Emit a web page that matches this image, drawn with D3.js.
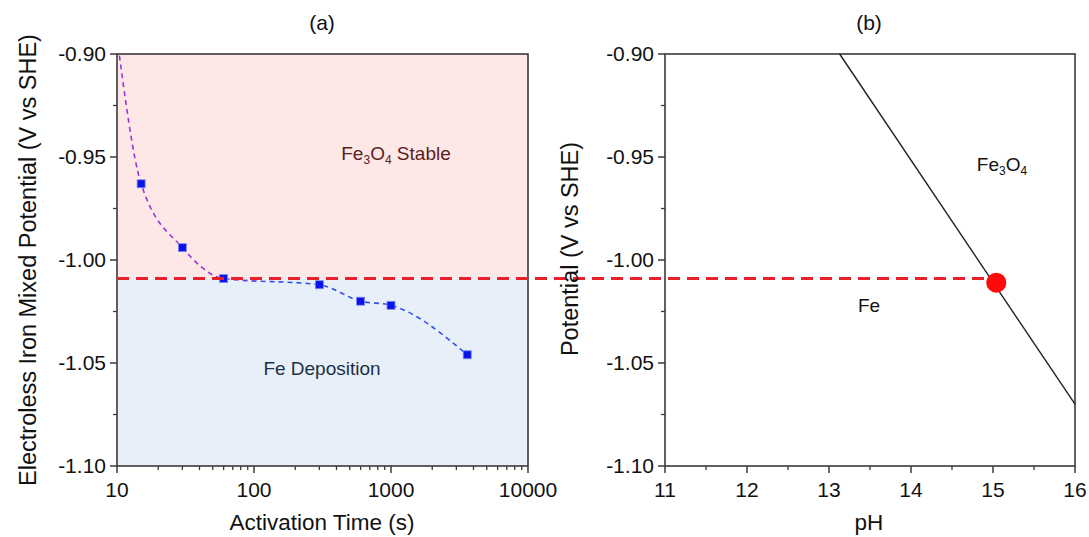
<!DOCTYPE html>
<html>
<head>
<meta charset="utf-8">
<script src="https://cdn.jsdelivr.net/npm/d3@7"></script>
<style>
  body { margin: 0; background: #fff; }
  svg { font-family: "Liberation Sans", Arial, sans-serif; }
</style>
</head>
<body>
<script>
// panel (a) data: activation time vs mixed potential
const times = [10, 15, 30, 60, 300, 600, 1000, 3600];
const potentials = [-0.892, -0.963, -0.994, -1.009, -1.012, -1.020, -1.022, -1.046];
const boundary = -1.009;          // red dashed level
// panel (b) data: Fe / Fe3O4 equilibrium line
const pHLine = [13.13, 16];
const eLine = [-0.90, -1.07];
const opPoint = { pH: 15.04, e: -1.011 };
const yTicks = [-1.10, -1.05, -1.00, -0.95, -0.90];
const xTicksA = [10, 100, 1000, 10000];
const xTicksB = [11, 12, 13, 14, 15, 16];

const width = 1089, height = 537;
const svg = d3.select("body").append("svg").attr("width", width).attr("height", height);
const defs = svg.append("defs");

const xA = d3.scaleLog().domain([10, 10000]).range([117, 528]);
const xB = d3.scaleLinear().domain([11, 16]).range([665, 1075]);
const y = d3.scaleLinear().domain([-1.10, -0.90]).range([466, 54]);

const frameColor = "#3a3a3a";

// backgrounds panel a
svg.append("rect").attr("x", xA(10)).attr("y", y(-0.90))
    .attr("width", xA(10000) - xA(10)).attr("height", y(boundary) - y(-0.90))
    .attr("fill", "#fde7e7");
svg.append("rect").attr("x", xA(10)).attr("y", y(boundary))
    .attr("width", xA(10000) - xA(10)).attr("height", y(-1.10) - y(boundary))
    .attr("fill", "#e7eff8");

function drawAxes(x, minorX, ticksX, fmtX) {
    const [x0, x1] = x.range();
    const [y0, y1] = y.range();
    const g = svg.append("g");
    // minor ticks
    g.selectAll(".mx").data(minorX).enter().append("line")
        .attr("x1", d => x(d)).attr("x2", d => x(d))
        .attr("y1", y0).attr("y2", y0 + 4)
        .attr("stroke", frameColor).attr("stroke-width", 1.3);
    g.selectAll(".my").data([-1.075, -1.025, -0.975, -0.925]).enter().append("line")
        .attr("x1", x0 - 4).attr("x2", x0)
        .attr("y1", d => y(d)).attr("y2", d => y(d))
        .attr("stroke", frameColor).attr("stroke-width", 1.3);
    // major ticks
    g.selectAll(".Mx").data(ticksX).enter().append("line")
        .attr("x1", d => x(d)).attr("x2", d => x(d))
        .attr("y1", y0).attr("y2", y0 + 7)
        .attr("stroke", frameColor).attr("stroke-width", 1.5);
    g.selectAll(".My").data(yTicks).enter().append("line")
        .attr("x1", x0 - 7).attr("x2", x0)
        .attr("y1", d => y(d)).attr("y2", d => y(d))
        .attr("stroke", frameColor).attr("stroke-width", 1.5);
    g.selectAll(".tx").data(ticksX).enter().append("text")
        .attr("x", d => x(d)).attr("y", y0 + 31)
        .attr("text-anchor", "middle").attr("font-size", 21).attr("fill", "#111")
        .text(fmtX);
    g.selectAll(".ty").data(yTicks).enter().append("text")
        .attr("x", x0 - 11).attr("y", d => y(d) + 7)
        .attr("text-anchor", "end").attr("font-size", 21).attr("fill", "#111")
        .text(d => d3.format(".2f")(d).replace("−", "-"));
    // frame
    g.append("rect").attr("x", x0).attr("y", y1).attr("width", x1 - x0).attr("height", y0 - y1)
        .attr("fill", "none").attr("stroke", frameColor).attr("stroke-width", 1.6);
}

// clip for panel a
defs.append("clipPath").attr("id", "clipA").append("rect")
    .attr("x", xA(10)).attr("y", y(-0.90)).attr("width", xA(10000) - xA(10)).attr("height", y(-1.10) - y(-0.90));

// line gradient purple -> blue
const grad = defs.append("linearGradient").attr("id", "lineGrad")
    .attr("gradientUnits", "userSpaceOnUse")
    .attr("x1", xA(60)).attr("x2", xA(150)).attr("y1", 0).attr("y2", 0);
grad.append("stop").attr("offset", 0).attr("stop-color", "#9a35d2");
grad.append("stop").attr("offset", 1).attr("stop-color", "#3050ee");

const pts = times.map((t, i) => [t, potentials[i]]);
const gA = svg.append("g").attr("clip-path", "url(#clipA)");
gA.append("path")
    .datum(pts)
    .attr("d", d3.line().x(d => xA(d[0])).y(d => y(d[1])).curve(d3.curveMonotoneX))
    .attr("fill", "none").attr("stroke", "url(#lineGrad)")
    .attr("stroke-width", 1.6).attr("stroke-dasharray", "5,4");
gA.selectAll("rect.pt").data(pts).enter().append("rect")
    .attr("x", d => xA(d[0]) - 4).attr("y", d => y(d[1]) - 4)
    .attr("width", 8).attr("height", 8)
    .attr("fill", "#0a14e6").attr("stroke", "#7f8cf2").attr("stroke-width", 0.8);

drawAxes(xA,
    [20, 30, 40, 50, 60, 70, 80, 90, 200, 300, 400, 500, 600, 700, 800, 900,
     2000, 3000, 4000, 5000, 6000, 7000, 8000, 9000],
    xTicksA, d => d3.format("d")(d));

// panel a labels
const ta = svg.append("text").attr("x", 396).attr("y", 160).attr("text-anchor", "middle")
    .attr("font-size", 19).attr("fill", "#5b1e1e");
ta.append("tspan").text("Fe");
ta.append("tspan").attr("font-size", 12).attr("dy", 4).text("3");
ta.append("tspan").attr("dy", -4).text("O");
ta.append("tspan").attr("font-size", 12).attr("dy", 4).text("4");
ta.append("tspan").attr("dy", -4).text(" Stable");
svg.append("text").attr("x", 322).attr("y", 375).attr("text-anchor", "middle")
    .attr("font-size", 19).attr("fill", "#1e3048").text("Fe Deposition");

// panel b
drawAxes(xB, [11.5, 12.5, 13.5, 14.5, 15.5], xTicksB, d => d3.format("d")(d));
svg.append("path")
    .datum(pHLine.map((p, i) => [p, eLine[i]]))
    .attr("d", d3.line().x(d => xB(d[0])).y(d => y(d[1])))
    .attr("fill", "none").attr("stroke", "#222").attr("stroke-width", 1.4);

const tb = svg.append("text").attr("x", 1002).attr("y", 171).attr("text-anchor", "middle")
    .attr("font-size", 19).attr("fill", "#111");
tb.append("tspan").text("Fe");
tb.append("tspan").attr("font-size", 12).attr("dy", 4).text("3");
tb.append("tspan").attr("dy", -4).text("O");
tb.append("tspan").attr("font-size", 12).attr("dy", 4).text("4");
svg.append("text").attr("x", 869).attr("y", 312).attr("text-anchor", "middle")
    .attr("font-size", 19).attr("fill", "#111").text("Fe");

// red dashed level line spanning both panels
svg.append("line")
    .attr("x1", xA(10)).attr("x2", xB(opPoint.pH) - 8)
    .attr("y1", y(boundary)).attr("y2", y(boundary))
    .attr("stroke", "#e8202a").attr("stroke-width", 3).attr("stroke-dasharray", "12,7");
svg.append("circle").attr("cx", xB(opPoint.pH)).attr("cy", y(opPoint.e)).attr("r", 10)
    .attr("fill", "#ff0a0a");

// titles
svg.append("text").attr("x", 322).attr("y", 30).attr("text-anchor", "middle")
    .attr("font-size", 21).attr("fill", "#111").text("(a)");
svg.append("text").attr("x", 869).attr("y", 30).attr("text-anchor", "middle")
    .attr("font-size", 21).attr("fill", "#111").text("(b)");
svg.append("text").attr("x", 322).attr("y", 530).attr("text-anchor", "middle")
    .attr("font-size", 22.5).attr("fill", "#111").text("Activation Time (s)");
svg.append("text").attr("x", 869).attr("y", 530).attr("text-anchor", "middle")
    .attr("font-size", 22.5).attr("fill", "#111").text("pH");
svg.append("text").attr("transform", "translate(36,260) rotate(-90)").attr("text-anchor", "middle")
    .attr("font-size", 23.5).attr("fill", "#111").text("Electroless Iron Mixed Potential (V vs SHE)");
svg.append("text").attr("transform", "translate(578,249) rotate(-90)").attr("text-anchor", "middle")
    .attr("font-size", 23.5).attr("fill", "#111").text("Potential (V vs SHE)");
</script>
</body>
</html>
